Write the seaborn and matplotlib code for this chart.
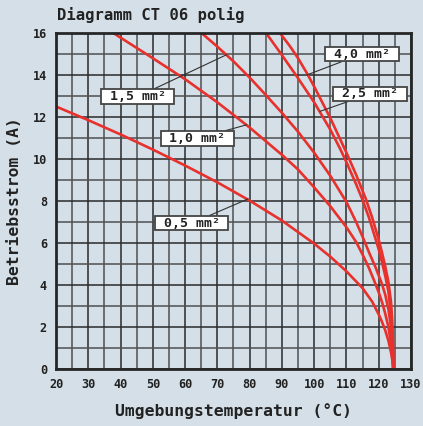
import matplotlib
matplotlib.use("Agg")
import matplotlib.pyplot as plt
import seaborn as sns

# Kennlinien CT 06 polig: Umgebungstemperatur (°C) -> Betriebsstrom (A)
t_05 = [20, 30, 40, 50, 60, 70, 80, 90, 100, 105, 110, 115, 118, 120, 121, 122, 123, 123.8, 124.3, 124.5]
i_05 = [12.5, 11.85, 11.17, 10.45, 9.69, 8.89, 8.02, 7.07, 5.97, 5.35, 4.65, 3.85, 3.2, 2.6, 2.25, 1.85, 1.35, 0.8, 0.35, 0]

t_10 = [37.8, 40, 50, 60, 70, 80, 90, 95, 100, 105, 110, 113, 115, 117, 119, 120, 121, 122, 123, 123.8, 124.3, 124.5]
i_10 = [16, 15.78, 14.8, 13.8, 12.7, 11.5, 10.2, 9.5, 8.65, 7.75, 6.75, 6.05, 5.45, 4.8, 4.05, 3.65, 3.2, 2.65, 2.0, 1.2, 0.5, 0]

t_15 = [65.1, 70, 75, 80, 85, 90, 95, 100, 105, 110, 113, 115, 117, 119, 121, 122, 123, 123.7, 124.2, 124.5]
i_15 = [16, 15.35, 14.65, 13.88, 13.05, 12.2, 11.3, 10.3, 9.2, 7.95, 7.0, 6.3, 5.55, 4.85, 4.05, 3.55, 2.85, 2.1, 1.2, 0]

t_25 = [85.1, 90, 95, 100, 105, 108, 110, 113, 115, 117, 119, 120, 121, 122, 123, 123.8, 124.2, 124.4, 124.5]
i_25 = [16, 14.95, 13.85, 12.7, 11.4, 10.5, 9.85, 8.8, 8.05, 7.2, 6.2, 5.7, 5.1, 4.45, 3.7, 2.6, 1.6, 0.8, 0]

t_40 = [89.4, 92.5, 95, 97.7, 100, 105, 110, 113, 116, 118, 120, 121, 122, 123, 123.8, 124.2, 124.4, 124.5, 124.5]
i_40 = [16, 15.37, 14.8, 14.1, 13.45, 11.95, 10.3, 9.25, 8.1, 7.2, 6.15, 5.55, 4.9, 4.15, 3.2, 2.3, 1.4, 0.6, 0]

names = ["0,5 mm²", "1,0 mm²", "1,5 mm²", "2,5 mm²", "4,0 mm²"]
curves = [(t_05, i_05), (t_10, i_10), (t_15, i_15), (t_25, i_25), (t_40, i_40)]

bg = "#d4dfe7"
red = "#e8302c"
dark = "#262626"

sns.set_style("white")
plt.rcParams["font.family"] = ["DejaVu Sans Mono"]
plt.rcParams["font.weight"] = "bold"

fig = plt.figure(figsize=(4.23, 4.26), dpi=100, facecolor=bg)
ax = fig.add_axes([0.1324, 0.1338, 0.8392, 0.7887], facecolor=bg)

for t, i in curves:
    sns.lineplot(x=t, y=i, ax=ax, color=red, lw=1.9, sort=False, estimator=None)

ax.set_xlim(20, 130)
ax.set_ylim(0, 16)
ax.set_xticks(range(20, 131, 10))
ax.set_xticks(range(25, 130, 10), minor=True)
ax.set_yticks(range(0, 17, 2))
ax.set_yticks(range(1, 16, 2), minor=True)
ax.grid(which="major", color="#2a2a2a", lw=1.1)
ax.grid(which="minor", color="#505050", lw=1.1)
ax.set_axisbelow(True)
ax.tick_params(which="major", direction="out", length=5, width=1.2, color=dark,
               labelsize=8.6, labelcolor="#222222", pad=1.5)
ax.tick_params(which="minor", length=0)
for s in ax.spines.values():
    s.set_color(dark)
    s.set_linewidth(2)

ax.set_xlabel("Umgebungstemperatur (°C)", fontsize=11.8, fontweight="bold", color="#222222", labelpad=9)
ax.set_ylabel("Betriebsstrom (A)", fontsize=11.8, fontweight="bold", color="#222222", labelpad=8)
fig.text(0.135, 0.952, "Diagramm CT 06 polig", fontsize=11.2, fontweight="bold", color="#222222")

# Beschriftungen mit Hinweislinien: (Punkt auf Kurve, Mitte des Kastens)
label_pos = {
    "0,5 mm²": ((79.5, 8.1), (62.0, 6.94)),
    "1,0 mm²": ((79.1, 11.63), (63.8, 10.98)),
    "1,5 mm²": ((72.9, 14.97), (45.3, 12.97)),
    "2,5 mm²": ((101.8, 12.27), (117.3, 13.1)),
    "4,0 mm²": ((97.7, 14.0), (114.8, 15.0)),
}
for name in names:
    xy, xytext = label_pos[name]
    ax.annotate(" " + name + " ", xy=xy, xytext=xytext, ha="center", va="center",
                fontsize=9.5, fontweight="bold", color="#222222",
                bbox=dict(boxstyle="square,pad=0.05", fc="white", ec="#444444", lw=1.3),
                arrowprops=dict(arrowstyle="-", color="#333333", lw=0.8, shrinkA=0, shrinkB=0))

fig.savefig("out.png", dpi=100, facecolor=bg)
